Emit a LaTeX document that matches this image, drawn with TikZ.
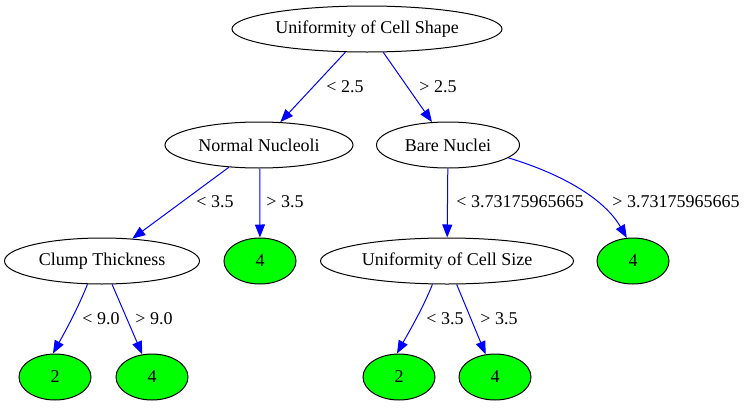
\documentclass[tikz,border=0pt]{standalone}
\usepackage{fontspec}
\setmainfont{Liberation Serif}
\usetikzlibrary{shapes.geometric,arrows.meta}

\tikzset{
  test/.style={draw,line width=1pt,ellipse,inner sep=0pt,minimum height=46pt,font=\fontsize{18}{20}\selectfont},
  leaf/.style={test,fill=green,minimum width=72pt},
  edge/.style={blue,line width=1pt,-{Triangle[length=13pt,width=10pt]}},
  lbl/.style={font=\fontsize{18}{20}\selectfont,inner sep=0pt}
}

\begin{document}
\begin{tikzpicture}[x=1pt,y=-1pt]
\useasboundingbox (0,0) rectangle (747,407);

% nodos
\node[test,minimum width=270pt] (shape) at (367,29) {Uniformity of Cell Shape};
\node[test,minimum width=188pt] (nucleoli) at (259,145) {Normal Nucleoli};
\node[test,minimum width=143pt] (bare) at (448,145) {Bare Nuclei};
\node[test,minimum width=195pt] (clump) at (102,261) {Clump Thickness};
\node[leaf] (nleaf) at (260,261) {4};
\node[test,minimum width=253pt] (size) at (447,261) {Uniformity of Cell Size};
\node[leaf] (bleaf) at (633,261) {4};
\node[leaf] (cleafa) at (55,377) {2};
\node[leaf] (cleafb) at (152,377) {4};
\node[leaf] (sleafa) at (399,377) {2};
\node[leaf] (sleafb) at (495,377) {4};

% arestas
\draw[edge] (shape) -- (nucleoli);
\draw[edge] (shape) -- (bare);
\draw[edge] (nucleoli) -- (clump);
\draw[edge] (nucleoli.-88) -- (nleaf);
\draw[edge] (bare) -- (size);
\draw[edge] (bare.-12) .. controls (565,175) and (605,200) .. (bleaf.105);
\draw[edge] (clump.-122) .. controls (78,308) and (66,330) .. (cleafa.95);
\draw[edge] (clump) -- (cleafb);
\draw[edge] (size.-122) .. controls (423,308) and (410,330) .. (sleafa.95);
\draw[edge] (size) -- (sleafb);

% rotulos
\node[lbl] (l1) at (345,87) {< 2.5};
\node[lbl] (l2) at (438,87) {> 2.5};
\node[lbl] (l3) at (215,202) {< 3.5};
\node[lbl] (l4) at (285,202) {> 3.5};
\node[lbl] (l5) at (520,202) {< 3.73175965665};
\node[lbl] (l6) at (676,202) {> 3.73175965665};
\node[lbl] (l7) at (101,319) {< 9.0};
\node[lbl] (l8) at (154,319) {> 9.0};
\node[lbl] (l9) at (445,319) {< 3.5};
\node[lbl] (l10) at (499,319) {> 3.5};

\end{tikzpicture}
\end{document}
